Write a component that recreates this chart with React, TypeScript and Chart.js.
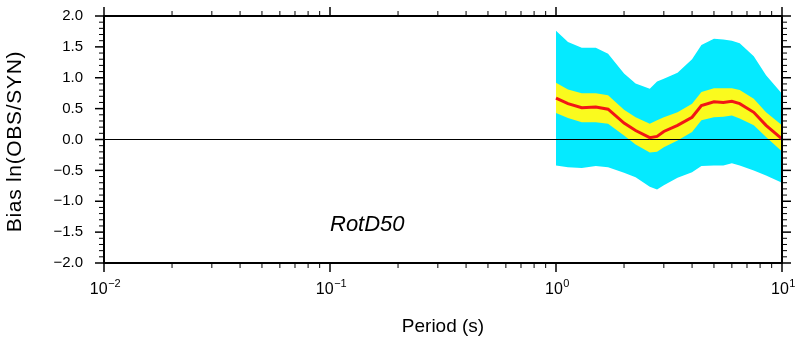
import React, { useEffect, useRef } from "react";
import { Chart, registerables } from "chart.js";

Chart.register(...registerables);

// ---- data ----
const periods = [1.0, 1.13, 1.3, 1.5, 1.7, 2.0, 2.25, 2.6, 2.8, 3.0, 3.45, 4.0, 4.4, 5.0, 5.5, 6.0, 6.5, 7.5, 8.5, 10.0];
const bias = [0.67, 0.58, 0.515, 0.525, 0.49, 0.265, 0.146, 0.03, 0.05, 0.13, 0.23, 0.36, 0.55, 0.61, 0.6, 0.62, 0.58, 0.44, 0.23, 0.01];
const sigmaUpper = [0.92, 0.81, 0.75, 0.75, 0.715, 0.48, 0.36, 0.255, 0.31, 0.36, 0.44, 0.58, 0.77, 0.83, 0.83, 0.83, 0.8, 0.66, 0.44, 0.23];
const sigmaLower = [0.43, 0.35, 0.28, 0.28, 0.255, 0.065, -0.08, -0.21, -0.2, -0.125, -0.016, 0.12, 0.31, 0.36, 0.37, 0.39, 0.34, 0.23, 0.04, -0.195];
const rangeUpper = [1.76, 1.58, 1.485, 1.485, 1.39, 1.07, 0.905, 0.82, 0.94, 0.985, 1.08, 1.3, 1.53, 1.63, 1.62, 1.6, 1.56, 1.35, 1.04, 0.74];
const rangeLower = [-0.42, -0.45, -0.46, -0.43, -0.45, -0.54, -0.61, -0.765, -0.81, -0.74, -0.62, -0.53, -0.43, -0.42, -0.42, -0.385, -0.42, -0.5, -0.585, -0.7];

const xMin = 0.01;
const xMax = 10;
const yMin = -2;
const yMax = 2;
const yStep = 0.5;
const yMinorStep = 0.1;
const xMajorTicks = [0.01, 0.1, 1, 10];
const xExponents = ["\u22122", "\u22121", "0", "1"];
const xMinorFactors = [2, 3, 4, 5, 6, 7, 8, 9];
const xTitle = "Period (s)";
const yTitle = "Bias ln(OBS/SYN)";
const panelLabel = "RotD50";
const panelLabelX = 0.1;
const panelLabelY = -1.5;

const FONT = "'Liberation Sans', Arial, Helvetica, sans-serif";

const pts = (ys: number[]) => periods.map((p, i) => ({ x: p, y: ys[i] }));

const framePlugin = {
  id: "frameTicks",
  afterDraw(chart: any) {
    const { ctx, chartArea: a } = chart;
    const xs = chart.scales.x;
    const ys = chart.scales.y;
    const MAJ = 9;
    const MIN = 5;
    ctx.save();
    ctx.strokeStyle = "#000";
    ctx.fillStyle = "#000";
    const line = (x1: number, y1: number, x2: number, y2: number, w: number) => {
      ctx.lineWidth = w;
      ctx.beginPath();
      ctx.moveTo(x1, y1);
      ctx.lineTo(x2, y2);
      ctx.stroke();
    };
    // x ticks
    xMajorTicks.forEach((v, i) => {
      const px = xs.getPixelForValue(v);
      line(px, a.bottom, px, a.bottom + MAJ, 1.5);
      line(px, a.top, px, a.top - MAJ, 1.5);
      if (i < xMajorTicks.length - 1) {
        xMinorFactors.forEach((f) => {
          const mx = xs.getPixelForValue(v * f);
          line(mx, a.bottom, mx, a.bottom + MIN, 1);
          line(mx, a.top, mx, a.top - MIN, 1);
        });
      }
    });
    // y ticks
    const nMinor = Math.round((yMax - yMin) / yMinorStep);
    for (let k = 0; k <= nMinor; k++) {
      const v = yMin + k * yMinorStep;
      const py = ys.getPixelForValue(v);
      const isMajor = Math.abs(v / yStep - Math.round(v / yStep)) < 1e-6;
      const len = isMajor ? MAJ : MIN;
      const w = isMajor ? 1.5 : 1;
      line(a.left, py, a.left - len, py, w);
      line(a.right, py, a.right + len, py, w);
    }
    // frame
    ctx.lineWidth = 2;
    ctx.strokeRect(a.left, a.top, a.right - a.left, a.bottom - a.top);

    // x tick labels with superscript exponents
    ctx.textBaseline = "alphabetic";
    ctx.textAlign = "left";
    xMajorTicks.forEach((v, i) => {
      const px = xs.getPixelForValue(v);
      ctx.font = `16px ${FONT}`;
      const w1 = ctx.measureText("10").width;
      ctx.font = `11px ${FONT}`;
      const w2 = ctx.measureText(xExponents[i]).width;
      const x0 = px - (w1 + w2) / 2 + 1;
      ctx.font = `16px ${FONT}`;
      ctx.fillText("10", x0, a.bottom + 31);
      ctx.font = `11px ${FONT}`;
      ctx.fillText(xExponents[i], x0 + w1 + 0.5, a.bottom + 24);
    });

    // axis titles
    ctx.font = `19px ${FONT}`;
    ctx.textAlign = "center";
    ctx.fillText(xTitle, (a.left + a.right) / 2, a.bottom + 68.5);

    ctx.save();
    ctx.translate(21, (a.top + a.bottom) / 2 + 2);
    ctx.rotate(-Math.PI / 2);
    ctx.font = `21px ${FONT}`;
    try {
      (ctx as any).letterSpacing = "0.7px";
    } catch (e) {}
    ctx.textAlign = "center";
    ctx.fillText(yTitle, 0, 0);
    try {
      (ctx as any).letterSpacing = "0px";
    } catch (e) {}
    ctx.restore();

    // panel label
    ctx.font = `italic 22px ${FONT}`;
    ctx.textAlign = "left";
    ctx.fillText(panelLabel, xs.getPixelForValue(panelLabelX), ys.getPixelForValue(panelLabelY) - 1);
    ctx.restore();
  },
};

export default function App() {
  const ref = useRef<HTMLCanvasElement | null>(null);

  useEffect(() => {
    if (!ref.current) return;
    const chart = new Chart(ref.current, {
      type: "line",
      data: {
        datasets: [
          {
            label: "bias",
            data: pts(bias),
            borderColor: "#f21515",
            borderWidth: 3,
            pointRadius: 0,
            fill: false,
            tension: 0,
            order: 0,
          },
          {
            label: "zero",
            data: [
              { x: xMin, y: 0 },
              { x: xMax, y: 0 },
            ],
            borderColor: "#000",
            borderWidth: 1,
            pointRadius: 0,
            fill: false,
            order: 1,
          },
          {
            label: "sigmaUpper",
            data: pts(sigmaUpper),
            borderWidth: 0,
            borderColor: "rgba(0,0,0,0)",
            backgroundColor: "#fafa1e",
            pointRadius: 0,
            fill: 3,
            order: 2,
          },
          {
            label: "sigmaLower",
            data: pts(sigmaLower),
            borderWidth: 0,
            borderColor: "rgba(0,0,0,0)",
            pointRadius: 0,
            fill: false,
            order: 3,
          },
          {
            label: "rangeUpper",
            data: pts(rangeUpper),
            borderWidth: 0,
            borderColor: "rgba(0,0,0,0)",
            backgroundColor: "#05eaff",
            pointRadius: 0,
            fill: 5,
            order: 4,
          },
          {
            label: "rangeLower",
            data: pts(rangeLower),
            borderWidth: 0,
            borderColor: "rgba(0,0,0,0)",
            pointRadius: 0,
            fill: false,
            order: 5,
          },
        ],
      },
      options: {
        animation: false,
        responsive: false,
        maintainAspectRatio: false,
        layout: { padding: { left: 0, right: 15, top: 16, bottom: 0 } },
        plugins: {
          legend: { display: false },
          tooltip: { enabled: false },
          filler: { propagate: false },
        },
        scales: {
          x: {
            type: "logarithmic",
            min: xMin,
            max: xMax,
            grid: { display: false, drawTicks: false },
            border: { display: false },
            ticks: { display: false },
            afterFit: (s: any) => {
              s.height = 79;
              s.paddingLeft = 0;
              s.paddingRight = 0;
            },
          },
          y: {
            type: "linear",
            min: yMin,
            max: yMax,
            grid: { display: false, drawTicks: false },
            border: { display: false },
            ticks: {
              stepSize: yStep,
              padding: 21,
              color: "#000",
              font: { size: 15, family: FONT },
              callback: (v: any) => {
                const n = Number(v);
                const s = Math.abs(n).toFixed(1);
                return n < -1e-9 ? "\u2212" + s : s;
              },
            },
            afterFit: (s: any) => {
              s.width = 104;
              s.paddingTop = 0;
              s.paddingBottom = 0;
            },
          },
        },
      },
      plugins: [framePlugin],
    } as any);
    return () => chart.destroy();
  }, []);

  return (
    <div style={{ position: "fixed", left: 0, top: 0, width: 797, height: 342, background: "#fff" }}>
      <canvas ref={ref} width={797} height={342} style={{ display: "block" }} />
    </div>
  );
}
